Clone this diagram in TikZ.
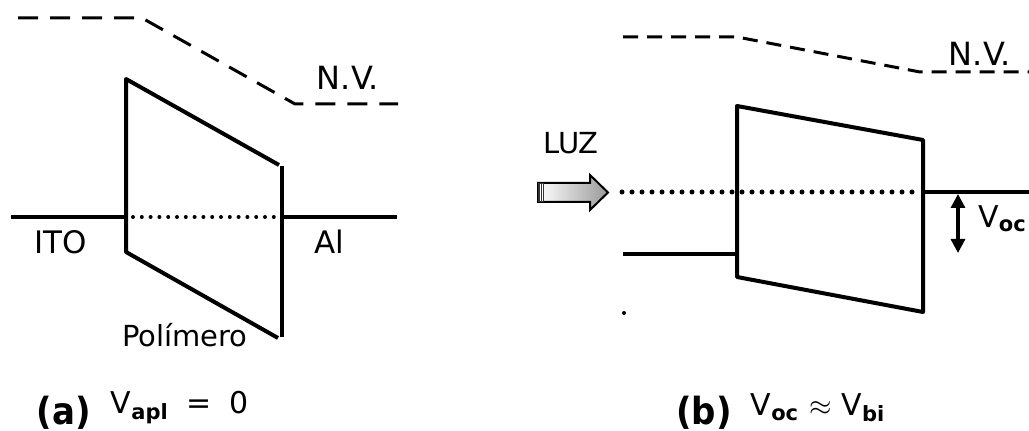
\documentclass[tikz,border=0pt]{standalone}
\usepackage{fontspec}
\setmainfont{DejaVu Sans}
\usetikzlibrary{arrows.meta}
\begin{document}
\begin{tikzpicture}[x=0.5pt,y=-0.5pt,
  band/.style={line width=2pt,line join=round},
  level/.style={line width=1.6pt},
  vacuum/.style={line width=1.5pt,dash pattern=on 10pt off 6pt},
  vacuumb/.style={line width=1.5pt,dash pattern=on 7.5pt off 4.5pt},
  fermi/.style={line width=2pt,line cap=round,dash pattern=on 0pt off 4.4pt},
  fermib/.style={line width=2.5pt,line cap=round,dash pattern=on 0pt off 5pt},
  lbl/.style={font=\fontsize{14.5}{16}\selectfont,inner sep=0pt},
  caption/.style={font=\fontsize{15}{17}\selectfont,inner sep=0pt},
  tag/.style={font=\fontsize{17}{20}\selectfont\bfseries,inner sep=0pt,yscale=1.1}]
\clip (0,0) rectangle (1029,431);
\fill[white] (0,0) rectangle (1029,431);

% ---------- (a) V_apl = 0 ----------
\coordinate (aV1) at (18,18);
\coordinate (aV2) at (142,18);
\coordinate (aV3) at (295,104);
\coordinate (aV4) at (398,104);
\draw[vacuum] (aV1) -- (aV2) -- (aV3) -- (aV4);

\coordinate (aTL) at (126,79);
\coordinate (aBL) at (126,252);
\coordinate (aTR) at (279,165);
\coordinate (aRT) at (282,166);
\coordinate (aRB) at (282,337);
\coordinate (aBR) at (278,338);
\draw[band] (aTR) -- (aTL) -- (aBL) -- (aBR);
\draw[band] (aRT) -- (aRB);

\coordinate (aL0) at (11,217);
\coordinate (aL1) at (126,217);
\coordinate (aR0) at (282,217);
\coordinate (aR1) at (397,217);
\draw[level] (aL0) -- (aL1);
\draw[level] (aR0) -- (aR1);
\coordinate (aD0) at (133,217);
\coordinate (aD1) at (276,217);
\draw[fermi] (aD0) -- (aD1);

\node[lbl,font=\fontsize{16}{18}\selectfont] (nva) at (348,78) {N.V.};
\node[lbl,font=\fontsize{15.5}{18}\selectfont] (ito) at (61,242) {ITO};
\node[lbl,font=\fontsize{15.5}{18}\selectfont] (al) at (329,242) {Al};
\node[lbl] (pol) at (185,335) {Polímero};
\node[tag] (capa) at (64,413) {(a)};
\node[caption] (vapl) at (180,408) {V\textsubscript{\bfseries apl}\hspace{9pt}=\hspace{9pt}0};

% ---------- (b) V_oc ~ V_bi ----------
\coordinate (bV1) at (623,37);
\coordinate (bV2) at (737,37);
\coordinate (bV3) at (920,72);
\coordinate (bV4) at (1035,72);
\draw[vacuumb] (bV1) -- (bV2) -- (bV3) -- (bV4);
\node[lbl,font=\fontsize{16}{18}\selectfont] (nvb) at (980,54) {N.V.};

\coordinate (bTL) at (737,106);
\coordinate (bBL) at (737,277);
\coordinate (bTR) at (923,140);
\coordinate (bBR) at (923,312);
\draw[band] (bTL) -- (bTR) -- (bBR) -- (bBL) -- cycle;

\coordinate (bD0) at (622,192);
\coordinate (bD1) at (918,192);
\draw[fermib] (bD0) -- (bD1);
\coordinate (bR1) at (1035,192);
\draw[level] (bTR |- bD0) -- (bR1);
\coordinate (bL0) at (623,254);
\draw[level] (bL0) -- (bL0 -| bBL);
\fill (624,313) circle (1pt);

% open-circuit voltage
\coordinate (vT) at (958,194);
\coordinate (vB) at (958,253);
\draw[line width=1.6pt,{Triangle[length=7pt,width=7pt]}-{Triangle[length=7pt,width=7pt]}] (vT) -- (vB);
\node[caption,anchor=west] (voc) at (978,219) {V\textsubscript{\bfseries oc}};

% incoming light
\node[lbl] (luz) at (571,143) {LUZ};
\shade[left color=white,right color=gray!80,draw=black,line width=1pt,line join=miter]
  (538,183) -- (590,183) -- (590,175) -- (608,192.5) -- (590,210) -- (590,202) -- (538,202) -- cycle;
\fill[black!80] (538,183) rectangle (544,202);
\draw[white,line width=0.4pt] (540.5,184) -- (540.5,201) (542.5,184) -- (542.5,201);

\node[tag] (capb) at (704,413) {(b)};
\node[caption] (vbi) at (818,408) {V\textsubscript{\bfseries oc}\hspace{5pt}$\approx$\hspace{5pt}V\textsubscript{\bfseries bi}};
\end{tikzpicture}
\end{document}
